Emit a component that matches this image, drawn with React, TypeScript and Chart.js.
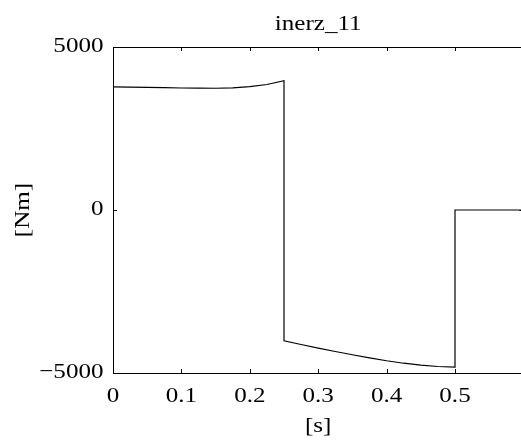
import React, { useEffect, useRef } from "react";
import { Chart, registerables } from "chart.js";

Chart.register(...registerables);

const titleText = "inerz_11";
const xTitle = "[s]";
const yTitle = "[Nm]";
const xTicks = [0, 0.1, 0.2, 0.3, 0.4, 0.5, 0.6];
const xTickLabels = ["0", "0.1", "0.2", "0.3", "0.4", "0.5", ""];
const yTicks = [-5000, 0, 5000];
const yTickLabels = ["\u22125000", "0", "5000"];

const timeS = [
  0, 0.025, 0.05, 0.075, 0.1, 0.125, 0.15, 0.175, 0.2, 0.225, 0.25,
  0.25, 0.275, 0.3, 0.325, 0.35, 0.375, 0.4, 0.425, 0.45, 0.475, 0.5,
  0.5, 0.6,
];
const torqueNm = [
  3775, 3768, 3760, 3751, 3743, 3736, 3735, 3748, 3782, 3850, 3966,
  -4010, -4125, -4235, -4340, -4440, -4535, -4625, -4700, -4760, -4800, -4820,
  0, 0,
];

const FONT_PX = 22;
const STRETCH = 1.14;
const FONT = `${FONT_PX}px "Liberation Serif", "Times New Roman", serif`;

function drawText(
  ctx: CanvasRenderingContext2D,
  text: string,
  x: number,
  y: number,
  align: "left" | "center" | "right",
  rotate = 0
) {
  ctx.save();
  ctx.translate(x, y);
  if (rotate) ctx.rotate(rotate);
  ctx.scale(STRETCH, 1);
  ctx.font = FONT;
  ctx.fillStyle = "#000";
  ctx.textAlign = align;
  ctx.textBaseline = "alphabetic";
  ctx.fillText(text, 0, 0);
  ctx.restore();
}

const framePlugin = {
  id: "frame",
  afterDraw(chart: any) {
    const ctx: CanvasRenderingContext2D = chart.ctx;
    const { left, right, top, bottom } = chart.chartArea;
    const xs = chart.scales.x;
    const ys = chart.scales.y;
    ctx.save();
    ctx.strokeStyle = "#000";
    ctx.lineWidth = 1;
    ctx.beginPath();
    ctx.moveTo(right, top + 0.5);
    ctx.lineTo(left + 0.5, top + 0.5);
    ctx.lineTo(left + 0.5, bottom + 0.5);
    ctx.lineTo(right, bottom + 0.5);
    ctx.lineTo(right, top + 0.5);
    const tl = 4;
    xTicks.forEach((v) => {
      const px = Math.round(xs.getPixelForValue(v)) + 0.5;
      ctx.moveTo(px, bottom);
      ctx.lineTo(px, bottom - tl);
      ctx.moveTo(px, top);
      ctx.lineTo(px, top + tl);
    });
    yTicks.forEach((v) => {
      const py = Math.round(ys.getPixelForValue(v)) + 0.5;
      ctx.moveTo(left, py);
      ctx.lineTo(left + tl, py);
      ctx.moveTo(right, py);
      ctx.lineTo(right - tl, py);
    });
    ctx.stroke();
    ctx.restore();

    xTicks.forEach((v, i) => {
      const px = xs.getPixelForValue(v);
      if (xTickLabels[i]) drawText(ctx, xTickLabels[i], px, bottom + 29, "center");
    });
    yTicks.forEach((v, i) => {
      const py = ys.getPixelForValue(v);
      drawText(ctx, yTickLabels[i], left - 9.5, py + 5, "right");
    });
    const cx = (left + right) / 2;
    drawText(ctx, titleText, cx, 30, "center");
    drawText(ctx, xTitle, cx, 432, "center");
    drawText(ctx, yTitle, 29, (top + bottom) / 2, "center", -Math.PI / 2);
  },
};

export default function App() {
  const ref = useRef<HTMLCanvasElement | null>(null);
  useEffect(() => {
    document.body.style.margin = "0";
    document.body.style.overflow = "hidden";
    const canvas = ref.current;
    if (!canvas) return;
    const chart = new Chart(canvas, {
      type: "line",
      data: {
        datasets: [
          {
            data: timeS.map((t, i) => ({ x: t, y: torqueNm[i] })),
            borderColor: "#000",
            borderWidth: 1.2,
            pointRadius: 0,
            tension: 0,
            fill: false,
          },
        ],
      },
      options: {
        animation: false,
        responsive: false,
        devicePixelRatio: 1,
        layout: { padding: { left: 113, top: 47, right: 560 - 523.4, bottom: 443 - 373 } },
        plugins: { legend: { display: false }, tooltip: { enabled: false }, title: { display: false } },
        scales: {
          x: { type: "linear", min: 0, max: 0.6, display: false },
          y: { type: "linear", min: -5000, max: 5000, display: false },
        },
      },
      plugins: [framePlugin],
    });
    return () => chart.destroy();
  }, []);
  return (
    <div style={{ position: "fixed", left: 0, top: 0, width: 521, height: 443, overflow: "hidden", background: "#fff" }}>
      <canvas ref={ref} width={560} height={443} style={{ width: 560, height: 443, display: "block" }} />
    </div>
  );
}
